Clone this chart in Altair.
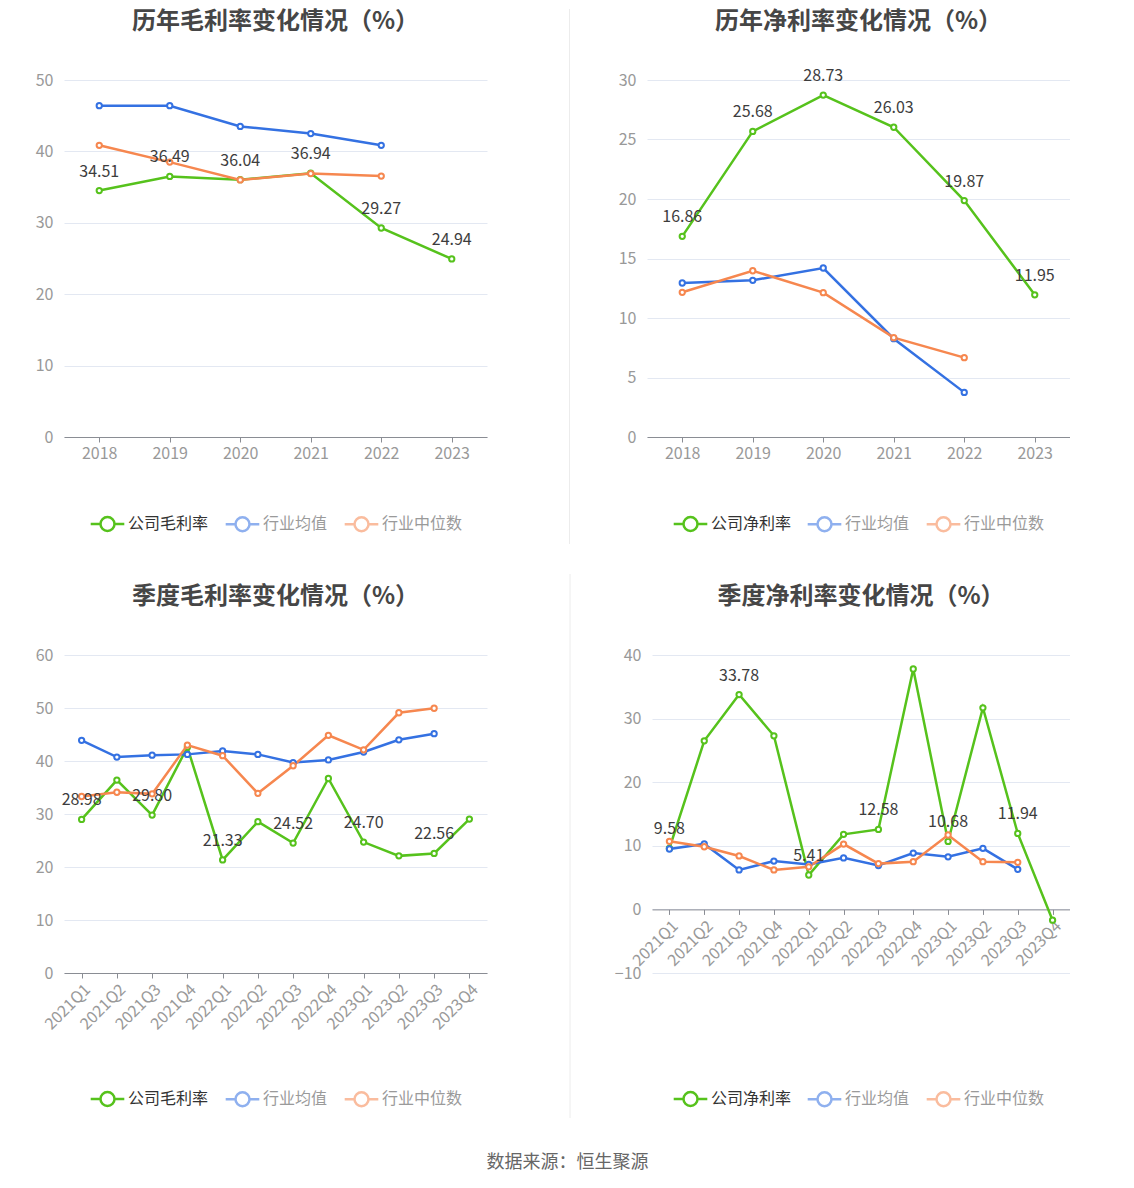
import altair as alt
import pandas as pd

# ---------------- data ----------------
years = ["2018", "2019", "2020", "2021", "2022", "2023"]
gross_company = [34.51, 36.49, 36.04, 36.94, 29.27, 24.94]
gross_avg = [46.4, 46.4, 43.5, 42.5, 40.85]
gross_median = [40.85, 38.5, 36.0, 36.9, 36.55]

net_company = [16.86, 25.68, 28.73, 26.03, 19.87, 11.95]
net_avg = [12.94, 13.17, 14.2, 8.26, 3.75]
net_median = [12.16, 13.97, 12.13, 8.35, 6.67]

quarters = ["2021Q1", "2021Q2", "2021Q3", "2021Q4", "2022Q1", "2022Q2",
            "2022Q3", "2022Q4", "2023Q1", "2023Q2", "2023Q3", "2023Q4"]
q_gross_company = [28.98, 36.4, 29.80, 42.6, 21.33, 28.55, 24.52, 36.7, 24.70, 22.1, 22.56, 29.05]
q_gross_avg = [43.9, 40.75, 41.1, 41.25, 41.9, 41.25, 39.7, 40.2, 41.7, 44.0, 45.15]
q_gross_median = [33.3, 34.1, 33.8, 43.0, 41.0, 33.9, 39.1, 44.85, 42.1, 49.1, 49.95]

q_net_company = [9.58, 26.5, 33.78, 27.3, 5.41, 11.8, 12.58, 37.8, 10.68, 31.7, 11.94, -1.7]
q_net_avg = [9.5, 10.3, 6.2, 7.6, 7.07, 8.1, 6.9, 8.85, 8.27, 9.6, 6.3]
q_net_median = [10.7, 9.85, 8.4, 6.2, 6.7, 10.27, 7.2, 7.5, 11.7, 7.5, 7.4]

annual_label_idx = [0, 1, 2, 3, 4, 5]
quarter_label_idx = [0, 2, 4, 6, 8, 10]

gross_names = ["公司毛利率", "行业均值", "行业中位数"]
net_names = ["公司净利率", "行业均值", "行业中位数"]

titles = ["历年毛利率变化情况（%）", "历年净利率变化情况（%）",
          "季度毛利率变化情况（%）", "季度净利率变化情况（%）"]
source_text = "数据来源：恒生聚源"

# ---------------- style ----------------
GREEN, BLUE, ORANGE = "#56c21c", "#3471e2", "#f6874f"
FONT = "Noto Sans CJK SC"
GRAY = "#999999"
AXIS = "#8a8d94"
GRID = "#e3e8f2"
SYM = "M-2.4,0L-1,0M1,0L2.4,0M1,0A1,1,0,1,1,-1,0A1,1,0,1,1,1,0"


def make_panel(title, cats, company, avg, median, names, ydom, yvals, label_idx,
               width, height, lx_a, lx_b, title_offset, quarterly=False, x_offset=0):
    cname, aname, mname = names
    comp_df = pd.DataFrame({"cat": cats, "value": company, "series": cname})
    n = len(avg)
    ind_df = pd.DataFrame({"cat": cats[:n] + cats[:n], "value": avg + median,
                           "series": [aname] * n + [mname] * n})
    lab_df = comp_df.iloc[label_idx]

    xaxis = alt.Axis(title=None, labelAngle=-45 if quarterly else 0, labelColor=GRAY,
                     labelFontSize=16, labelFont=FONT, labelPadding=3, labelOverlap=False,
                     domainColor=AXIS, tickColor=AXIS, tickSize=5, grid=False,
                     offset=x_offset)
    x = alt.X("cat:N", scale=alt.Scale(domain=cats, padding=0.5), axis=xaxis)
    y = alt.Y("value:Q", scale=alt.Scale(domain=ydom, nice=False, zero=False),
              axis=alt.Axis(title=None, values=yvals, domain=False, ticks=False,
                            labelColor=GRAY, labelFontSize=16, labelFont=FONT,
                            labelPadding=11, gridColor=GRID))
    ly = 435.5
    leg_a = alt.Legend(orient="none", legendX=lx_a, legendY=ly, title=None,
                       symbolType=SYM, symbolSize=196, symbolStrokeWidth=2.5,
                       symbolFillColor="white", labelFontSize=16, labelFont=FONT,
                       labelColor="#333333", labelOffset=12, padding=0)
    leg_b = alt.Legend(orient="none", legendX=lx_b, legendY=ly, title=None,
                       direction="horizontal", symbolType=SYM, symbolSize=196,
                       symbolStrokeWidth=2.5, symbolFillColor="white",
                       symbolOpacity=0.55, labelFontSize=16, labelFont=FONT,
                       labelColor="#9a9a9a", labelOffset=12, columnPadding=11,
                       padding=0)
    ind_scale = alt.Scale(domain=[aname, mname], range=[BLUE, ORANGE])

    comp_line = alt.Chart(comp_df).mark_line(strokeWidth=2.5).encode(
        x=x, y=y,
        color=alt.Color("series:N", scale=alt.Scale(domain=[cname], range=[GREEN]),
                        legend=leg_a))
    ind_line = alt.Chart(ind_df).mark_line(strokeWidth=2.5).encode(
        x=x, y=y, stroke=alt.Stroke("series:N", scale=ind_scale, legend=leg_b))
    comp_pts = alt.Chart(comp_df).mark_point(
        shape="circle", filled=False, fill="white", size=28, strokeWidth=2,
        stroke=GREEN, opacity=1).encode(x=x, y=y)
    ind_pts = alt.Chart(ind_df).mark_point(
        shape="circle", filled=False, fill="white", size=28, strokeWidth=2,
        opacity=1).encode(x=x, y=y,
                          stroke=alt.Stroke("series:N", scale=ind_scale, legend=None))
    labels = alt.Chart(lab_df).mark_text(
        dy=-19, fontSize=16, font=FONT, color="#3d3d3d").encode(
        x=x, y=y, text=alt.Text("value:Q", format=".2f"))

    return alt.layer(comp_line, comp_pts, ind_line, ind_pts, labels).properties(
        width=width, height=height,
        title=alt.TitleParams(title, fontSize=24, fontWeight="bold", color="#464646",
                              font=FONT, anchor="middle", frame="group", dx=0,
                              offset=title_offset))


def separator(x, y1, y2, height):
    return alt.Chart(pd.DataFrame({"k": [0]})).mark_rule(
        color="#ececec", strokeWidth=1).encode(
        x=alt.value(x), y=alt.value(y1), y2=alt.value(y2)).properties(
        width=1, height=height)


p1 = make_panel(titles[0], years, gross_company, gross_avg, gross_median, gross_names,
                [0, 50], [0, 10, 20, 30, 40, 50], annual_label_idx, 423, 357, 35, 170, 38)
p2 = make_panel(titles[1], years, net_company, net_avg, net_median, net_names,
                [0, 30], [0, 5, 10, 15, 20, 25, 30], annual_label_idx, 423, 357, 35, 169, 34)
p3 = make_panel(titles[2], quarters, q_gross_company, q_gross_avg, q_gross_median,
                gross_names, [0, 60], [0, 10, 20, 30, 40, 50, 60], quarter_label_idx,
                423, 318, 35, 170, 38, quarterly=True)
p4 = make_panel(titles[3], quarters, q_net_company, q_net_avg, q_net_median,
                net_names, [-10, 40], [-10, 0, 10, 20, 30, 40], quarter_label_idx,
                418, 318, 30, 164, 38, quarterly=True, x_offset=-63.6)


def indep(c):
    return c.resolve_scale(color="independent", stroke="independent").resolve_legend(
        color="independent", stroke="independent")


row1 = indep(alt.hconcat(p1, separator(3, -71, 464, 357), p2, spacing=79.5, bounds="flush"))
row2 = indep(alt.hconcat(p3, separator(1, -81, 463, 318), p4, spacing=82, bounds="flush"))

chart = indep(alt.vconcat(row1, row2, spacing=28)).properties(
    title=alt.TitleParams(source_text, orient="bottom", anchor="middle",
                          fontSize=18, fontWeight="normal", color="#666666",
                          font=FONT, offset=35, dx=15),
    padding={"left": 27, "top": 0, "right": 0, "bottom": 0},
).configure_view(stroke=None)

chart.save("out.html", embed_options={"renderer": "svg", "actions": False})
